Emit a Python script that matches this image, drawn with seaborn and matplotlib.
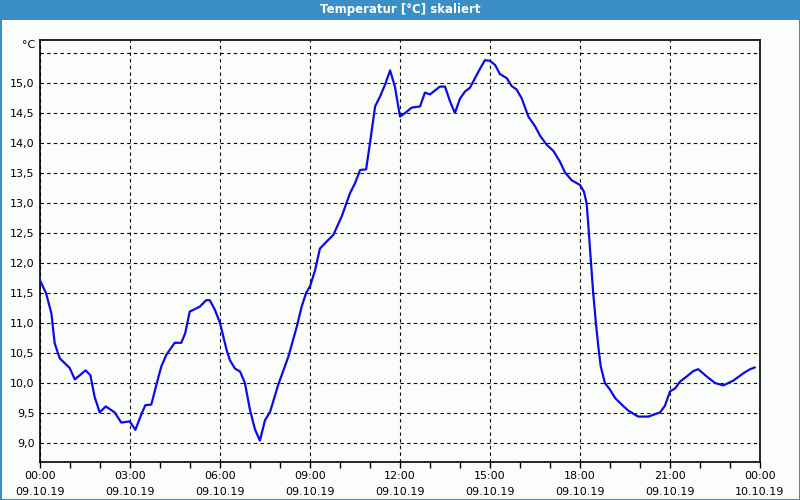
import matplotlib
matplotlib.use("Agg")
import matplotlib.pyplot as plt
import seaborn as sns
import pandas as pd
from matplotlib.patches import Rectangle
from matplotlib.ticker import MultipleLocator, FixedLocator

# ---- data (hours since 09.10.19 00:00, temperature in °C) ----
hours = [0.0, 0.2, 0.38, 0.49, 0.66, 0.99, 1.16, 1.52, 1.68, 1.82, 1.99, 2.19, 2.49,
         2.71, 2.99, 3.18, 3.38, 3.51, 3.71, 3.88, 4.04, 4.21, 4.49, 4.71, 4.84, 4.99,
         5.32, 5.54, 5.66, 5.83, 6.0, 6.22, 6.33, 6.5, 6.67, 6.83, 7.0, 7.17, 7.33,
         7.5, 7.67, 7.94, 8.28, 8.56, 8.72, 8.87, 9.0, 9.17, 9.33, 9.56, 9.78, 10.06,
         10.33, 10.5, 10.67, 10.87, 11.0, 11.17, 11.33, 11.5, 11.67, 11.83, 12.0,
         12.17, 12.39, 12.67, 12.83, 13.0, 13.33, 13.5, 13.67, 13.83, 14.0, 14.17,
         14.33, 14.5, 14.67, 14.83, 15.0, 15.17, 15.33, 15.56, 15.72, 15.89, 16.06,
         16.28, 16.5, 16.67, 16.89, 17.11, 17.33, 17.5, 17.72, 18.0, 18.13, 18.22,
         18.28, 18.36, 18.44, 18.53, 18.61, 18.69, 18.83, 19.0, 19.17, 19.39, 19.61,
         19.94, 20.28, 20.5, 20.67, 20.83, 21.0, 21.17, 21.33, 21.56, 21.78, 21.94,
         22.22, 22.5, 22.78, 23.11, 23.44, 23.67, 23.83]
temps = [11.71, 11.5, 11.16, 10.66, 10.41, 10.25, 10.06, 10.21, 10.13, 9.77, 9.51, 9.61,
         9.51, 9.34, 9.36, 9.22, 9.48, 9.63, 9.64, 9.97, 10.27, 10.47, 10.67, 10.67,
         10.83, 11.19, 11.27, 11.38, 11.38, 11.22, 11.0, 10.55, 10.38, 10.24, 10.19,
         10.0, 9.55, 9.22, 9.04, 9.38, 9.52, 9.97, 10.44, 10.94, 11.27, 11.5, 11.61,
         11.88, 12.24, 12.36, 12.47, 12.78, 13.16, 13.33, 13.55, 13.56, 14.0, 14.61,
         14.77, 14.97, 15.21, 14.94, 14.44, 14.5, 14.59, 14.61, 14.84, 14.81, 14.94,
         14.94, 14.69, 14.5, 14.74, 14.86, 14.92, 15.08, 15.24, 15.38, 15.37, 15.3,
         15.15, 15.08, 14.95, 14.89, 14.74, 14.44, 14.28, 14.12, 13.97, 13.87, 13.69,
         13.51, 13.38, 13.3, 13.19, 13.0, 12.61, 12.05, 11.5, 11.0, 10.61, 10.28, 10.0,
         9.89, 9.75, 9.64, 9.54, 9.44, 9.44, 9.48, 9.51, 9.62, 9.86, 9.91, 10.02,
         10.11, 10.2, 10.23, 10.11, 10.0, 9.96, 10.04, 10.16, 10.23, 10.26]

tick_hours = [0, 3, 6, 9, 12, 15, 18, 21, 24]
tick_labels = ["00:00\n09.10.19", "03:00\n09.10.19", "06:00\n09.10.19",
               "09:00\n09.10.19", "12:00\n09.10.19", "15:00\n09.10.19",
               "18:00\n09.10.19", "21:00\n09.10.19", "00:00\n10.10.19"]
y_ticks = [9.0, 9.5, 10.0, 10.5, 11.0, 11.5, 12.0, 12.5, 13.0, 13.5, 14.0, 14.5, 15.0]
title = "Temperatur [°C] skaliert"
unit = "°C"

BG = "#fbfdfb"
BAR = "#3c8fc4"

sns.set_theme(style="white")
plt.rcParams["font.family"] = ["DejaVu Sans"]

fig = plt.figure(figsize=(8, 5), dpi=100, facecolor=BG)
ax = fig.add_axes([40 / 800, 38 / 500, 720 / 800, 422 / 500])
ax.set_facecolor(BG)

df = pd.DataFrame({"h": hours, "t": temps})
sns.lineplot(data=df, x="h", y="t", ax=ax, color="#0c0ce8", linewidth=1.6, zorder=3)

ax.set_xlim(0, 24)
ax.set_ylim(15.0 - (462 - 83) / 60, 15.0 + (83 - 40) / 60)

ax.xaxis.set_major_locator(FixedLocator(tick_hours))
ax.set_xticks(tick_hours)
ax.set_xticklabels(tick_labels, fontsize=8, linespacing=1.7)
ax.xaxis.set_minor_locator(MultipleLocator(1))
ax.tick_params(axis="x", which="both", direction="out", length=4, width=1,
               color="black", bottom=True, pad=2.5, labelcolor="black")

grid_y = y_ticks + [15.5]
ax.set_yticks(grid_y)
ax.set_yticklabels([f"{v:.1f}".replace(".", ",") for v in y_ticks] + [""], fontsize=8)
ax.tick_params(axis="y", which="both", length=0, pad=4, labelcolor="black")

ax.set_xlabel("")
ax.set_ylabel("")
ax.grid(True, which="major", color="black", linestyle=(0, (3, 3)), linewidth=0.8)
for s in ax.spines.values():
    s.set_visible(True)
    s.set_color("black")
    s.set_linewidth(1.2)

ax.text(-0.006, 1.0 - 5 / 422, unit, transform=ax.transAxes, ha="right", va="center",
        fontsize=8, color="black")

# title bar and window border
fig.patches.append(Rectangle((0, 480 / 500), 1, 20 / 500, transform=fig.transFigure,
                             facecolor=BAR, edgecolor="none", zorder=0))
fig.patches.append(Rectangle((0.5 / 800, 0.5 / 500), 799 / 800, 499 / 500,
                             transform=fig.transFigure, facecolor="none",
                             edgecolor=BAR, linewidth=1.5, zorder=1))
fig.text(0.5, 490 / 500, title, ha="center", va="center", color="white",
         fontsize=8.5, fontweight="bold")

fig.savefig("out.png", dpi=100, facecolor=BG)
